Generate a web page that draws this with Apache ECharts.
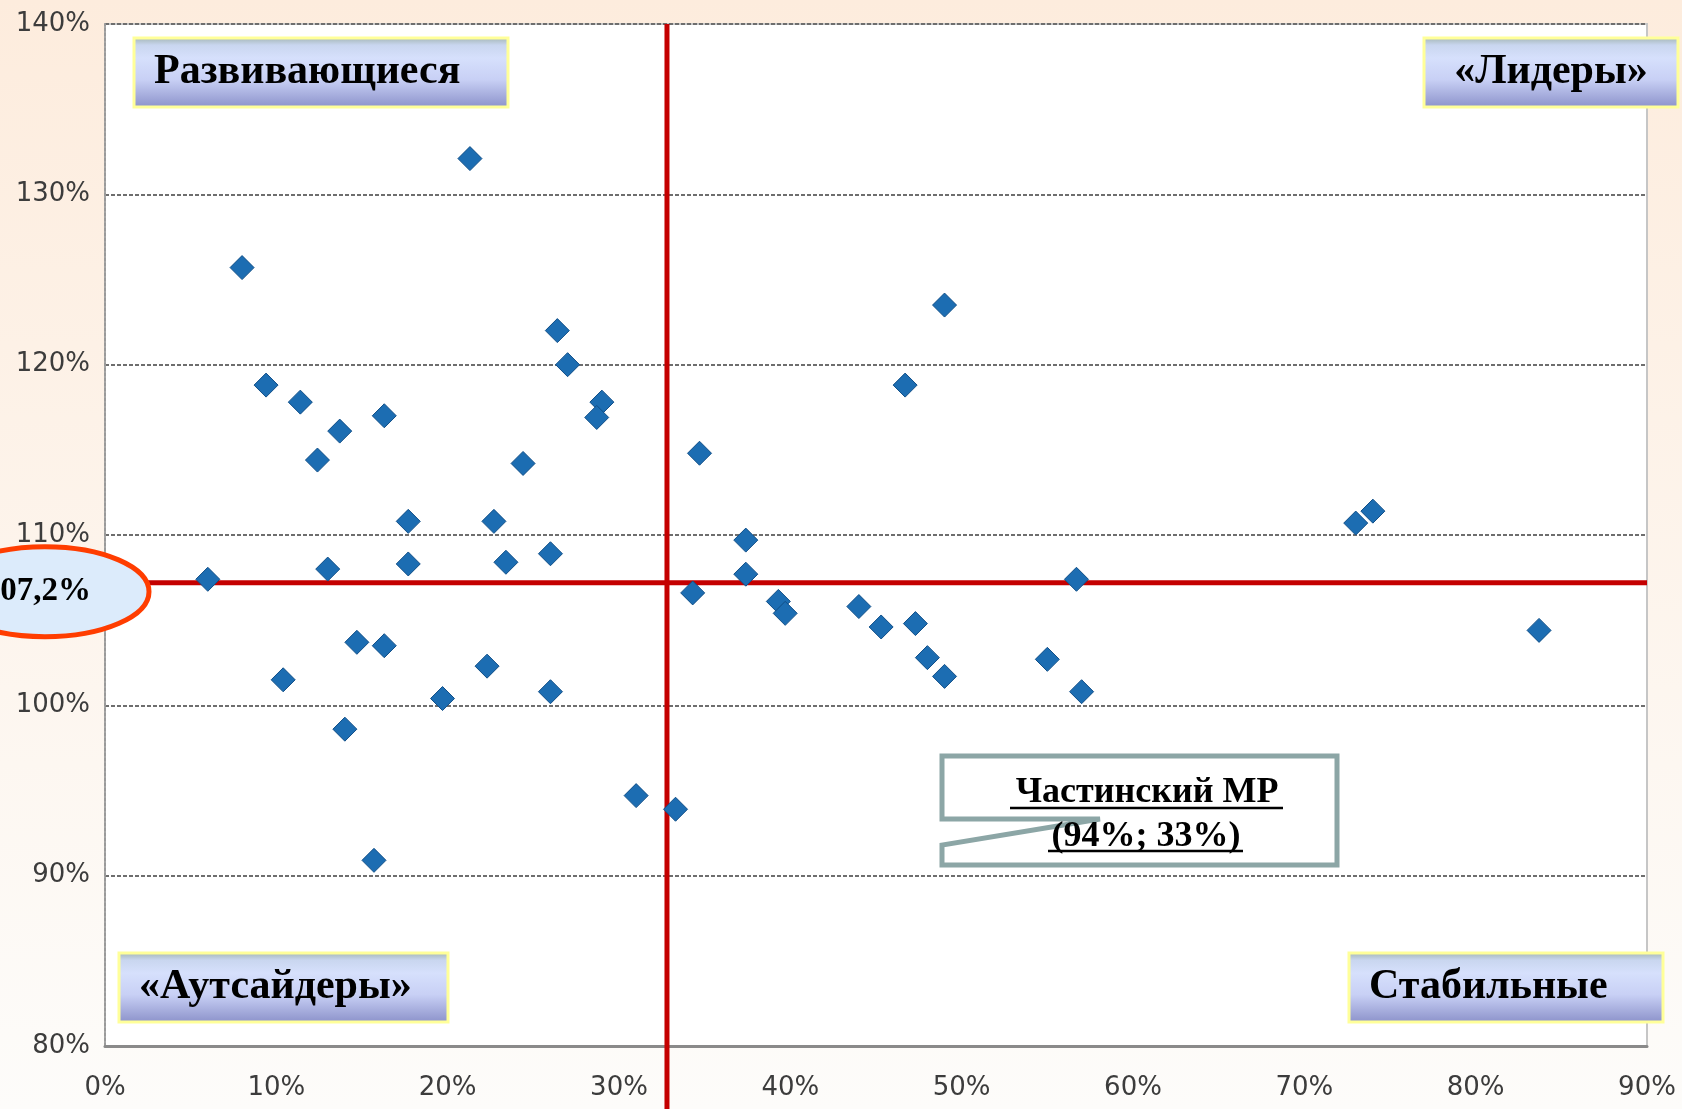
<!DOCTYPE html>
<html>
<head>
<meta charset="utf-8">
<title>Квадранты</title>
<script src="https://cdn.jsdelivr.net/npm/echarts@6/dist/echarts.min.js"></script>
<style>
    html, body { margin: 0; padding: 0; }
    #chart { width: 1682px; height: 1109px; }
</style>
</head>
<body>
<div id="chart"></div>
<script>
// данные точек (ось X, %)
var xShare = [21.3, 8.0, 26.4, 27.0, 9.4, 11.4, 16.3, 29.0, 28.7, 13.7, 12.4, 24.4, 17.7, 22.7,
              26.0, 23.4, 17.7, 13.0, 6.0, 14.7, 16.3, 22.3, 10.4, 26.0, 19.7, 14.0, 15.7, 31.0,
              33.3,
              49.0, 46.7, 34.7, 37.4, 37.4, 56.7, 34.3, 39.3, 39.7, 44.0, 45.3, 47.3, 48.0, 49.0, 55.0, 57.0,
              73.0, 74.0, 83.7];
// ось Y, %
var yGrowth = [132.1, 125.7, 122.0, 120.0, 118.8, 117.8, 117.0, 117.8, 116.9, 116.1, 114.4, 114.2, 110.8, 110.8,
               108.9, 108.4, 108.3, 108.0, 107.4, 103.7, 103.5, 102.3, 101.5, 100.8, 100.4, 98.6, 90.9, 94.7,
               93.9,
               123.5, 118.8, 114.8, 109.7, 107.7, 107.4, 106.6, 106.1, 105.4, 105.8, 104.6, 104.8, 102.8, 101.7, 102.7, 100.8,
               110.7, 111.4, 104.4];
// средние значения (красные линии)
var meanX = 32.8;
var meanY = 107.2;
var xRange = [0, 90, 10];
var yRange = [80, 140, 10];
var quadrantNames = ['Развивающиеся', '«Лидеры»', '«Аутсайдеры»', 'Стабильные'];
var calloutLines = ['Частинский МР', '(94%; 33%)'];

var points = xShare.map(function (x, i) { return [x, yGrowth[i]]; });

var chart = echarts.init(document.getElementById('chart'));
var labelFont = 'Verdana, "DejaVu Sans", sans-serif';
var serif = '"Liberation Serif", "Times New Roman", serif';

var option = {
    animation: false,
    backgroundColor: new echarts.graphic.LinearGradient(0, 0, 0, 1, [
        { offset: 0, color: '#fdecdd' },
        { offset: 1, color: '#fdfcfa' }
    ]),
    grid: {
        left: 105, right: 35, top: 24, bottom: 63,
        show: true, backgroundColor: '#ffffff', borderColor: '#c6c6c6', borderWidth: 2,
        outerBoundsMode: 'none'
    },
    xAxis: {
        type: 'value', min: xRange[0], max: xRange[1], interval: xRange[2],
        axisLine: { show: true, onZero: false, lineStyle: { color: '#8a8a8a', width: 3 } },
        axisTick: { show: false },
        splitLine: { show: false },
        axisLabel: { formatter: '{value}%', color: '#3c3c3c', fontSize: 26, fontFamily: labelFont, margin: 29 }
    },
    yAxis: {
        type: 'value', min: yRange[0], max: yRange[1], interval: yRange[2],
        axisLine: { show: true, lineStyle: { color: '#9a9a9a', width: 2, type: [3, 2] } },
        axisTick: { show: false },
        splitLine: { show: true, lineStyle: { color: '#6e6e6e', width: 2, type: [4, 2] } },
        axisLabel: { formatter: '{value}%', color: '#3c3c3c', fontSize: 26, fontFamily: labelFont, margin: 15 }
    },
    series: [{
        type: 'scatter',
        data: points,
        symbol: 'diamond',
        symbolSize: 24,
        z: 5,
        itemStyle: { color: '#1c6db2', borderColor: '#114f88', borderWidth: 1, opacity: 1 }
    }]
};
chart.setOption(option);

// позиции для красных линий и подписей
var tl = chart.convertToPixel({ gridIndex: 0 }, [xRange[0], yRange[1]]);
var br = chart.convertToPixel({ gridIndex: 0 }, [xRange[1], yRange[0]]);
var mp = chart.convertToPixel({ gridIndex: 0 }, [meanX, meanY]);

var boxFill = new echarts.graphic.LinearGradient(0, 0, 0, 1, [
    { offset: 0, color: '#9fb2ad' },
    { offset: 0.12, color: '#c9d6ef' },
    { offset: 0.3, color: '#d6e0fc' },
    { offset: 0.6, color: '#c8d0f5' },
    { offset: 1, color: '#8a90c9' }
]);

function quadBox(x, y, w, h, text, centered) {
    return {
        type: 'group', z: 20,
        children: [
            { type: 'rect', shape: { x: x, y: y, width: w, height: h },
              style: { fill: boxFill, stroke: '#ffff99', lineWidth: 3 }, z: 20 },
            { type: 'text', z: 21,
              style: { text: text, x: centered ? x + w / 2 : x + 20, y: y + h / 2,
                       align: centered ? 'center' : 'left', verticalAlign: 'middle',
                       font: 'bold 42px ' + serif, fill: '#000' } }
        ]
    };
}

var ecy = mp[1] + 9;
var graphics = [
    { type: 'line', z: 3, shape: { x1: mp[0], y1: tl[1], x2: mp[0], y2: 1109 },
      style: { stroke: '#c40000', lineWidth: 5 } },
    { type: 'line', z: 3, shape: { x1: tl[0], y1: mp[1], x2: br[0], y2: mp[1] },
      style: { stroke: '#c40000', lineWidth: 5 } },
    { type: 'ellipse', z: 20, shape: { cx: 45, cy: ecy, rx: 104, ry: 45 },
      style: { fill: '#dcebfb', stroke: '#ff3d00', lineWidth: 5 } },
    { type: 'text', z: 21,
      style: { text: String(meanY).replace('.', ',') + '%', x: 91, y: ecy, align: 'right', verticalAlign: 'middle',
               font: 'bold 33px ' + serif, fill: '#000' } },
    quadBox(134, 38, 374, 69, quadrantNames[0], false),
    quadBox(1424, 38, 254, 69, quadrantNames[1], true),
    quadBox(119, 953, 329, 69, quadrantNames[2], false),
    quadBox(1349, 953, 314, 69, quadrantNames[3], false),
    // выноска
    { type: 'polygon', z: 20,
      shape: { points: [[942, 756], [1337, 756], [1337, 865], [942, 865], [942, 845], [1100, 819], [942, 819]] },
      style: { fill: '#ffffff', stroke: '#8ca6a6', lineWidth: 5 } },
    { type: 'text', z: 21,
      style: { text: calloutLines[0], x: 1147, y: 793, align: 'center', verticalAlign: 'middle',
               font: 'bold 36px ' + serif, fill: '#000' } },
    { type: 'text', z: 21,
      style: { text: calloutLines[1], x: 1146, y: 837, align: 'center', verticalAlign: 'middle',
               font: 'bold 36px ' + serif, fill: '#000' } },
    { type: 'line', z: 21, shape: { x1: 1010, y1: 808, x2: 1283, y2: 808 }, style: { stroke: '#000', lineWidth: 2.5 } },
    { type: 'line', z: 21, shape: { x1: 1048, y1: 851, x2: 1243, y2: 851 }, style: { stroke: '#000', lineWidth: 2.5 } }
];
chart.setOption({ graphic: graphics });
</script>
</body>
</html>
